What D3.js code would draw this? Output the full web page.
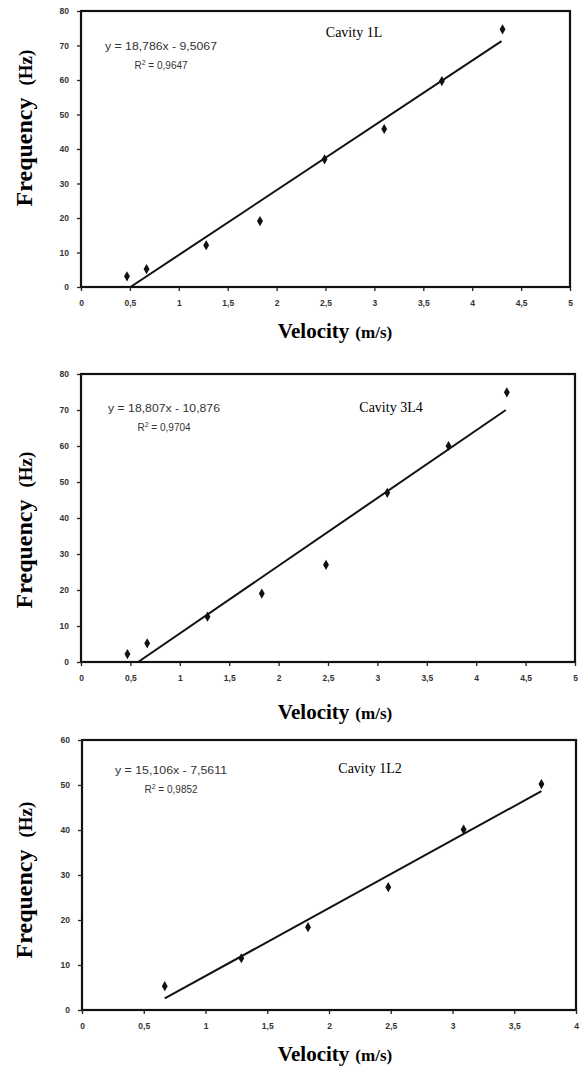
<!DOCTYPE html>
<html>
<head>
<meta charset="utf-8">
<script src="https://cdn.jsdelivr.net/npm/d3@7"></script>
<style>
  body { margin: 0; background: #fff; }
  svg { display: block; }
  .tick text { font-family: "Liberation Sans", Arial, sans-serif; font-size: 8.5px; font-weight: bold; fill: #333; }
</style>
</head>
<body>
<div id="chart"></div>
<script>
// velocity (m/s) and frequency (Hz)
var vel1L = [0.47, 0.67, 1.28, 1.83, 2.49, 3.10, 3.69, 4.31];
var freq1L = [3.1, 5.2, 12.1, 19.1, 37, 45.8, 59.7, 74.7];

var vel3L4 = [0.47, 0.67, 1.28, 1.83, 2.48, 3.10, 3.72, 4.31];
var freq3L4 = [2.2, 5.2, 12.6, 19.0, 27, 47, 60, 74.9];

var vel1L2 = [0.67, 1.29, 1.83, 2.48, 3.09, 3.72];
var freq1L2 = [5.3, 11.5, 18.4, 27.3, 40.1, 50.2];

// linear fits shown on the charts
var slopes = [18.786, 18.807, 15.106];
var intercepts = [-9.5067, -10.876, -7.5611];
var fitFrom = [0.506, 0.578, 0.67];
var fitTo = [4.3, 4.3, 3.72];
var eqLabels = ["y = 18,786x - 9,5067", "y = 18,807x - 10,876", "y = 15,106x - 7,5611"];
var r2Labels = ["0,9647", "0,9704", "0,9852"];
var titles = ["Cavity 1L", "Cavity 3L4", "Cavity 1L2"];

var xMax = [5, 5, 4];
var yMax = [80, 80, 60];
var xTicks1 = [0, 0.5, 1, 1.5, 2, 2.5, 3, 3.5, 4, 4.5, 5];
var xTicks2 = [0, 0.5, 1, 1.5, 2, 2.5, 3, 3.5, 4];
var yTicks1 = [0, 10, 20, 30, 40, 50, 60, 70, 80];
var yTicks2 = [0, 10, 20, 30, 40, 50, 60];

var panels = [
  { vel: vel1L, freq: freq1L, xt: xTicks1, yt: yTicks1, box: [81, 570, 11, 287], titleAt: [354, 37], eqAt: [161, 50], xlabY: 338, ylabY: 128 },
  { vel: vel3L4, freq: freq3L4, xt: xTicks1, yt: yTicks1, box: [81, 575, 374, 662], titleAt: [391, 412], eqAt: [164, 412], xlabY: 719, ylabY: 530 },
  { vel: vel1L2, freq: freq1L2, xt: xTicks2, yt: yTicks2, box: [82, 576, 740, 1010], titleAt: [370, 773], eqAt: [171, 774], xlabY: 1061, ylabY: 880 }
];

var svg = d3.select("#chart").append("svg").attr("width", 581).attr("height", 1074);
var fmt = function (d) { return String(d).replace(".", ","); };

panels.forEach(function (p, i) {
  var left = p.box[0], right = p.box[1], top = p.box[2], bottom = p.box[3];
  var x = d3.scaleLinear().domain([0, xMax[i]]).range([left, right]);
  var y = d3.scaleLinear().domain([0, yMax[i]]).range([bottom, top]);
  var g = svg.append("g");

  g.append("rect")
    .attr("x", left).attr("y", top)
    .attr("width", right - left).attr("height", bottom - top)
    .attr("fill", "none").attr("stroke", "#111").attr("stroke-width", 2.2);

  var xAxis = g.append("g")
    .attr("transform", "translate(0," + bottom + ")")
    .call(d3.axisBottom(x).tickValues(p.xt).tickFormat(fmt).tickSize(4).tickSizeOuter(0).tickPadding(9));
  var yAxis = g.append("g")
    .attr("transform", "translate(" + left + ",0)")
    .call(d3.axisLeft(y).tickValues(p.yt).tickSize(4).tickSizeOuter(0).tickPadding(8));
  [xAxis, yAxis].forEach(function (a) {
    a.select(".domain").remove();
    a.selectAll("line").attr("stroke", "#222").attr("stroke-width", 1.3);
  });

  // fit line
  var line = d3.line().x(function (d) { return x(d); }).y(function (d) { return y(slopes[i] * d + intercepts[i]); });
  g.append("path")
    .datum([fitFrom[i], fitTo[i]])
    .attr("d", line)
    .attr("fill", "none").attr("stroke", "#111").attr("stroke-width", 2);

  // points
  g.selectAll(".pt")
    .data(p.vel)
    .enter().append("path")
    .attr("class", "pt")
    .attr("transform", function (d, k) { return "translate(" + x(d) + "," + y(p.freq[k]) + ")"; })
    .attr("d", d3.symbol().type(d3.symbolDiamond).size(30))
    .attr("fill", "#111");

  // title + equation
  g.append("text")
    .attr("x", p.titleAt[0]).attr("y", p.titleAt[1])
    .attr("text-anchor", "middle")
    .style("font-family", "'Liberation Serif', 'Times New Roman', serif")
    .style("font-size", "14px")
    .text(titles[i]);

  g.append("text")
    .attr("x", p.eqAt[0]).attr("y", p.eqAt[1])
    .attr("text-anchor", "middle")
    .attr("textLength", 112).attr("lengthAdjust", "spacingAndGlyphs")
    .style("font-family", "'Liberation Sans', Arial, sans-serif")
    .style("font-size", "10px").style("fill", "#333")
    .text(eqLabels[i]);

  var r2 = g.append("text")
    .attr("x", p.eqAt[0]).attr("y", p.eqAt[1] + 19)
    .attr("text-anchor", "middle")
    .style("font-family", "'Liberation Sans', Arial, sans-serif")
    .style("font-size", "10px").style("fill", "#333");
  r2.append("tspan").text("R");
  r2.append("tspan").attr("dy", -4).style("font-size", "7px").text("2");
  r2.append("tspan").attr("dy", 4).text(" = " + r2Labels[i]);

  // axis titles
  var xl = g.append("text")
    .attr("x", 335).attr("y", p.xlabY)
    .attr("text-anchor", "middle")
    .style("font-family", "'Liberation Serif', 'Times New Roman', serif")
    .style("font-weight", "bold");
  xl.append("tspan").style("font-size", "21px").text("Velocity");
  xl.append("tspan").attr("dx", 6).style("font-size", "17px").text("(m/s)");

  var yl = g.append("text")
    .attr("transform", "translate(32," + p.ylabY + ") rotate(-90)")
    .attr("text-anchor", "middle")
    .style("font-family", "'Liberation Serif', 'Times New Roman', serif")
    .style("font-weight", "bold");
  yl.append("tspan").style("font-size", "24px").text("Frequency");
  yl.append("tspan").attr("dx", 12).style("font-size", "19px").text("(Hz)");
});
</script>
</body>
</html>
